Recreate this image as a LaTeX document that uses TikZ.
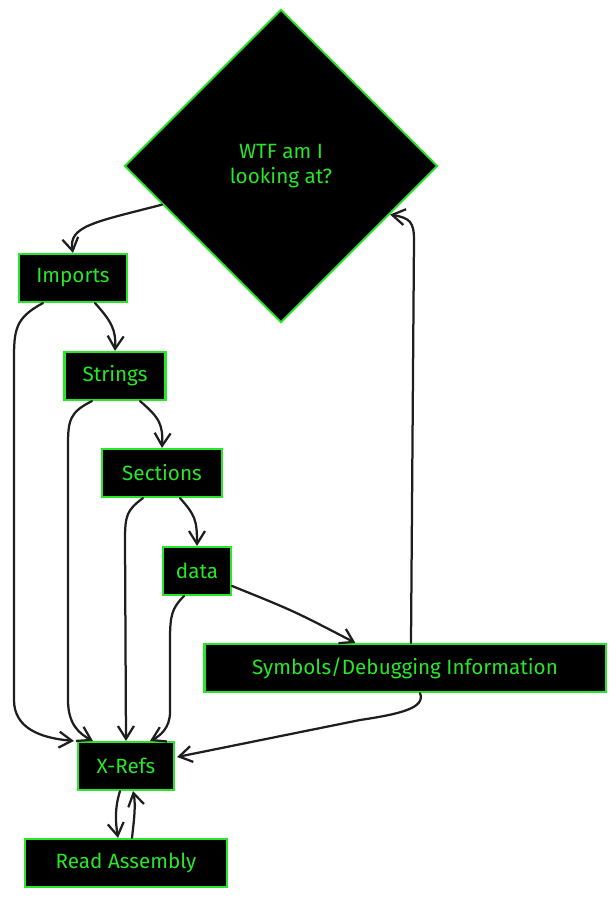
\documentclass[tikz,border=0pt]{standalone}
\usepackage{fontspec}
\setmainfont{Fira Sans}
\usetikzlibrary{arrows.meta,shapes.geometric,calc}
\definecolor{hackgreen}{RGB}{40,230,40}
\definecolor{inkgray}{RGB}{30,30,30}

\begin{document}
\begin{tikzpicture}[
    x=0.025cm, y=-0.025cm,
    every node/.style={font=\fontsize{14.7}{18}\selectfont, text=hackgreen},
    box/.style={rectangle, draw=hackgreen, fill=black, line width=1.5pt, minimum height=1.2cm, inner sep=0pt},
    edge/.style={draw=inkgray, line width=1.6pt, line cap=round, -{Straight Barb[length=3.2mm,width=4mm]}}
]
    \useasboundingbox (0,0) rectangle (616,897);

    % question
    \node[diamond, draw=hackgreen, fill=black, line width=1.3pt, minimum width=7.83cm, minimum height=7.83cm,
          inner sep=0pt, align=center] (q) at (281,166) {WTF am I\\looking at?};

    % steps
    \node[box, minimum width=2.7cm] (imp) at (73,278) {Imports};
    \node[box, minimum width=2.525cm] (str) at (115,376) {Strings};
    \node[box, minimum width=3cm] (sec) at (162,473) {Sections};
    \node[box, minimum width=1.7cm] (dat) at (197,571) {data};
    \node[box, minimum width=10.025cm] (sym) at (405,668) {Symbols/Debugging Information};
    \node[box, minimum width=2.4cm] (xr) at (126,766) {X-Refs};
    \node[box, minimum width=5.05cm] (ra) at (126,863) {Read Assembly};

    % down the chain
    \draw[edge] (q.198) .. controls (95,222) and (68,226) .. (imp.north);
    \draw[edge] ($(imp.south)+(22,0)$) .. controls (112,322) and (116,330) .. (str.north);
    \draw[edge] ($(str.south)+(25,0)$) .. controls (160,418) and (163,425) .. (sec.north);
    \draw[edge] ($(sec.south)+(18,0)$) .. controls (195,515) and (197,520) .. (dat.north);
    \draw[edge] ($(dat.east)+(0,15)$) .. controls (294,611) .. ($(sym.north west)+(152,0)$);

    % into X-Refs
    \draw[edge] ($(imp.south)+(-30,0)$) .. controls (15,318) and (14,330) .. (14,360) -- (14,700)
        .. controls (14,728) and (40,738) .. ($(xr.north west)+(-3,0)$);
    \draw[edge] ($(str.south)+(-23,0)$) .. controls (70,412) and (68,420) .. (68,445) -- (68,700)
        .. controls (68,725) and (80,734) .. ($(xr.north west)+(16,0)$);
    \draw[edge] ($(sec.south)+(-19,0)$) .. controls (127,510) and (125,515) .. (125,540) -- (xr.north);
    \draw[edge] ($(dat.south)+(-13,0)$) .. controls (172,608) and (170,615) .. (170,640) -- (170,712)
        .. controls (170,728) and (160,736) .. ($(xr.north)+(24,0)$);
    \draw[edge] ($(sym.south)+(15,0)$) .. controls (426,708) and (400,714) .. (360,720) -- ($(xr.east)+(2,-9)$);

    % back to the question
    \draw[edge] ($(sym.north)+(6,0)$) -- (414,240) .. controls (414,222) and (410,218) .. (q.-24);

    % assembly loop
    \draw[edge] ($(xr.south)+(-6,0)$) .. controls (114,810) and (116,825) .. ($(ra.north)+(-8,0)$);
    \draw[edge] ($(ra.north)+(6,0)$) .. controls (134,820) and (136,805) .. ($(xr.south)+(7,0)$);
\end{tikzpicture}
\end{document}
